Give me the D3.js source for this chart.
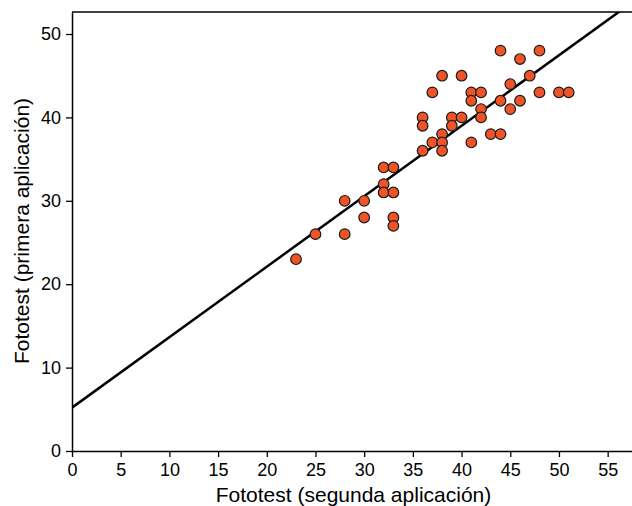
<!DOCTYPE html>
<html>
<head>
<meta charset="utf-8">
<script src="https://cdn.jsdelivr.net/npm/d3@7"></script>
<style>
  body { margin: 0; background: #fff; }
  svg { display: block; font-family: "Liberation Sans", Arial, sans-serif; }
</style>
</head>
<body>
<div id="chart"></div>
<script>
// Fototest: segunda aplicación (x) vs primera aplicación (y)
const segunda = [23, 25, 28, 28, 30, 30, 32, 32, 32, 33, 33, 33, 33,
  36, 36, 36, 37, 37, 38, 38, 38, 38, 39, 39, 40, 40,
  41, 41, 41, 42, 42, 42, 43, 44, 44, 44, 45, 45, 46, 46, 47, 48, 48, 50, 51];
const primera = [23, 26, 30, 26, 30, 28, 34, 32, 31, 34, 31, 28, 27,
  40, 39, 36, 43, 37, 45, 38, 37, 36, 40, 39, 45, 40,
  43, 42, 37, 43, 41, 40, 38, 48, 42, 38, 44, 41, 47, 42, 45, 48, 43, 43, 43];
const xTicks = [0, 5, 10, 15, 20, 25, 30, 35, 40, 45, 50, 55];
const yTicks = [0, 10, 20, 30, 40, 50];
const fitIntercept = 5.2;
const fitSlope = 0.845;

const data = segunda.map((d, i) => ({ x: d, y: primera[i] }));

const W = 632, H = 506;
const margin = { top: 12, right: 0, bottom: 55, left: 72 };
const width = W - margin.left - margin.right;
const height = H - margin.top - margin.bottom;

const svg = d3.select("#chart").append("svg").attr("width", W).attr("height", H);
const g = svg.append("g").attr("transform", `translate(${margin.left},${margin.top})`);

const x = d3.scaleLinear().domain([0, 57.5]).range([0, width]);
const y = d3.scaleLinear().domain([0, 52.64]).range([height, 0]);

svg.append("defs").append("clipPath").attr("id", "clip")
  .append("rect").attr("width", width).attr("height", height);

// frame top line
g.append("line").attr("x1", 0).attr("x2", width).attr("y1", 0).attr("y2", 0)
  .attr("stroke", "#000").attr("stroke-width", 1.5);

const xAxis = g.append("g").attr("transform", `translate(0,${height})`)
  .call(d3.axisBottom(x).tickValues(xTicks).tickSize(6).tickSizeOuter(0).tickPadding(6));
const yAxis = g.append("g")
  .call(d3.axisLeft(y).tickValues(yTicks).tickSize(6).tickSizeOuter(0).tickPadding(5));

[xAxis, yAxis].forEach(a => {
  a.select(".domain").attr("stroke", "#000").attr("stroke-width", 1.5);
  a.selectAll(".tick line").attr("stroke", "#000").attr("stroke-width", 1.3);
  a.selectAll(".tick text").attr("fill", "#000").style("font-size", "18px")
    .style("font-family", "'Liberation Sans', Arial, sans-serif");
});

// regression line
const line = d3.line().x(d => x(d)).y(d => y(fitIntercept + fitSlope * d));
g.append("path").datum([0, 57.5]).attr("clip-path", "url(#clip)")
  .attr("d", line).attr("fill", "none").attr("stroke", "#000").attr("stroke-width", 2.5);

g.selectAll(".dot")
  .data(data)
  .enter()
  .append("circle")
  .attr("class", "dot")
  .attr("cx", d => x(d.x))
  .attr("cy", d => y(d.y))
  .attr("r", 5.3)
  .attr("fill", "#ee5426")
  .attr("stroke", "#1a1a1a")
  .attr("stroke-width", 1.2);

svg.append("text").attr("x", 353.5).attr("y", 501.5)
  .attr("text-anchor", "middle").style("font-size", "21px")
  .text("Fototest (segunda aplicación)");

svg.append("text").attr("transform", `translate(28.5,231) rotate(-90)`)
  .attr("text-anchor", "middle").style("font-size", "21px")
  .text("Fototest (primera aplicación)");
</script>
</body>
</html>
